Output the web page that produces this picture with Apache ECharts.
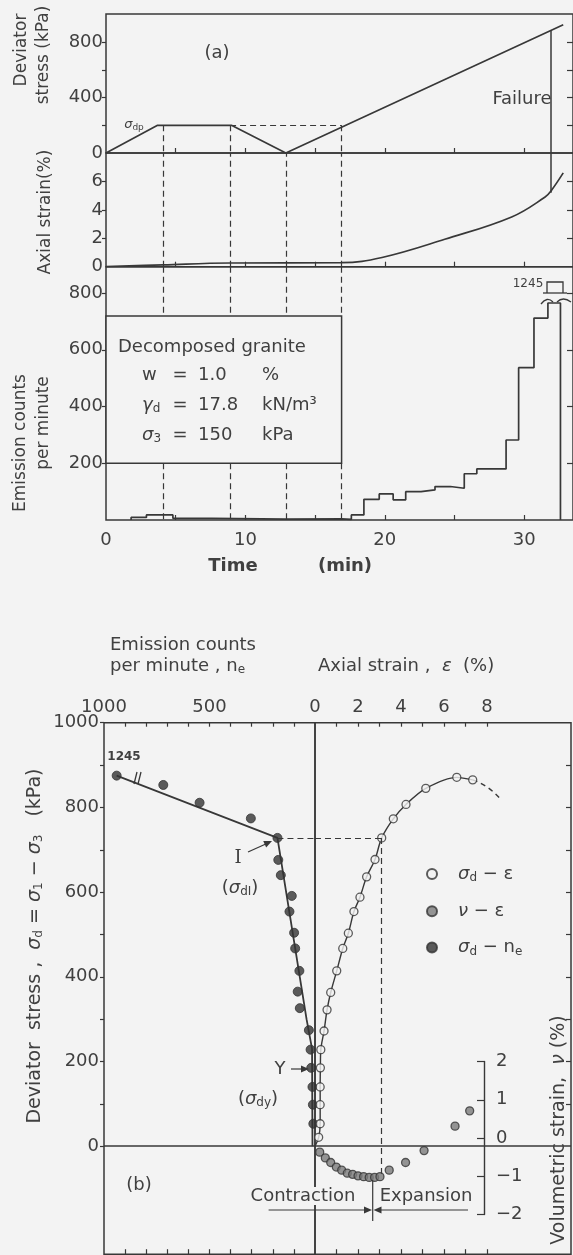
<!DOCTYPE html>
<html>
<head>
<meta charset="utf-8">
<script src="https://cdn.jsdelivr.net/npm/echarts@6/dist/echarts.min.js"></script>
<style>
html, body { margin: 0; padding: 0; background: #f3f3f3; }
#main { width: 573px; height: 1255px; }
</style>
</head>
<body>
<div id="main"></div>
<script>
// (a) time histories, x = time (min)
var stressPts = [[0, 0], [3.7, 200], [9.0, 200], [12.9, 0], [32.8, 928]];
var strainPts = [[0, 0], [4.1, 0.13], [8.9, 0.26], [16.9, 0.28], [19.8, 0.65], [24.3, 1.93], [29.1, 3.5], [31.5, 4.9], [31.9, 5.3], [32.8, 6.6]];
// emission counts per minute, [bin start, counts]
var countPts = [[1.8, 0], [1.8, 9], [2.9, 18], [4.8, 6], [7.6, 3], [12.9, 4], [16.9, 2], [17.6, 18], [18.5, 73], [19.6, 92], [20.6, 71], [21.5, 100],
	[22.6, 106], [23.6, 118], [24.7, 112], [25.7, 163], [26.6, 180], [27.7, 180], [28.7, 282], [29.6, 537], [30.7, 712], [31.7, 765], [32.6, 0]];
var timeLabels = [0, 10, 20, 30];
var markTimes = [4.1, 8.9, 12.9, 16.9];
var failureTime = 31.9;
var failureStress = 889;
var dpStress = 200;

// (b) [axial strain %, deviator stress kPa]
var sigEps = [[0.17, 21], [0.24, 53], [0.24, 98], [0.24, 140], [0.25, 185], [0.27, 228], [0.42, 272], [0.56, 322], [0.73, 363], [1.01, 414],
	[1.29, 467], [1.55, 503], [1.81, 554], [2.09, 588], [2.40, 636], [2.79, 677], [3.10, 728], [3.64, 773], [4.23, 807], [5.15, 845], [6.59, 871], [7.33, 865]];
var sigEpsTail = [[7.33, 865], [8.0, 848], [8.6, 821]];
// [counts per minute, deviator stress]; first point is 1245 drawn past the axis break
var sigNe = [[940, 875], [719, 853], [547, 811], [304, 774], [178, 728], [174, 676], [162, 640], [110, 591], [121, 554], [99, 504], [94, 467],
	[74, 414], [82, 365], [72, 326], [29, 274], [21, 228], [18, 185], [12, 140], [10, 98], [8, 53]];
var neTrend = [[940, 875], [178, 728], [40, 300], [14, 230], [12, 0]];
// [axial strain %, volumetric strain %]
var nuEps = [[0.22, -0.37], [0.48, -0.52], [0.73, -0.64], [0.99, -0.76], [1.24, -0.84], [1.50, -0.92], [1.75, -0.95], [2.0, -0.99], [2.26, -1.01],
	[2.52, -1.03], [2.77, -1.03], [3.02, -1.01], [3.45, -0.84], [4.21, -0.64], [5.07, -0.33], [6.51, 0.31], [7.19, 0.71]];
var sigI = [178, 728, 3.1];
var nuMinStress = -65;

var ink = '#383838';
var txt = '#404040';
var bg = '#f3f3f3';
var F = 'DejaVu Sans';

function range(a, b, s) {
	var r = [];
	for (var v = a; v <= b + 1e-9; v += s) r.push(v);
	return r;
}

function gridBox(l, t, w, h, show) {
	return { left: l, top: t, width: w, height: h, show: show, borderColor: ink, borderWidth: 1.5, backgroundColor: 'transparent' };
}

function plain(v) {
	return v < 0 ? '\u2212' + (-v) : String(v);
}

function valAxis(o) {
	var a = {
		type: 'value', gridIndex: o.grid, min: o.min, max: o.max, position: o.pos, inverse: !!o.inverse,
		axisLine: { show: !!o.line, onZero: false, lineStyle: { color: ink, width: 1.4 } },
		splitLine: { show: false },
		axisTick: { show: !!o.ticks, inside: o.inside !== false, length: o.tickLen || 5, lineStyle: { color: ink, width: 1.2 } },
		axisLabel: { show: !!o.labels, color: txt, fontFamily: F, fontSize: 18, margin: o.margin || 6, formatter: plain }
	};
	if (o.ticks) a.axisTick.customValues = o.ticks;
	if (o.labels) a.axisLabel.customValues = o.labels;
	return a;
}

function timeAxis(g, labels) {
	return valAxis({ grid: g, min: 0, max: 33.5, pos: 'bottom', ticks: range(5, 30, 5), labels: labels ? timeLabels : null, margin: 11 });
}

function seg(x1, y1, x2, y2, style) {
	var a = { coord: [x1, y1] };
	if (style) a.lineStyle = style;
	return [a, { coord: [x2, y2] }];
}

function txtEl(x, y, text, opt) {
	opt = opt || {};
	return {
		type: 'text', x: x, y: y, rotation: opt.rot || 0, z: 100,
		style: {
			text: text, fill: opt.color || txt, fontFamily: opt.family || F, fontSize: opt.size || 18,
			fontWeight: opt.weight || 'normal', fontStyle: opt.style || 'normal',
			align: opt.align || 'center', textAlign: opt.align || 'center', verticalAlign: 'middle', textVerticalAlign: 'middle',
			rich: opt.rich, backgroundColor: opt.bgc, padding: opt.pad
		}
	};
}

function lineEl(pts, w) {
	return { type: 'polyline', z: 100, shape: { points: pts }, style: { stroke: ink, lineWidth: w || 1.3, fill: null } };
}

function curveEl(x1, y1, cx, cy, x2, y2) {
	return { type: 'bezierCurve', z: 100, shape: { x1: x1, y1: y1, cpx1: cx, cpy1: cy, x2: x2, y2: y2 }, style: { stroke: ink, lineWidth: 1.3, fill: null } };
}

function arrowHead(tip, dx, dy) {
	// small filled triangle pointing along (dx, dy)
	var n = Math.sqrt(dx * dx + dy * dy), ux = dx / n, uy = dy / n, L = 8, W = 3.5;
	return {
		type: 'polygon', z: 100,
		shape: { points: [tip, [tip[0] - ux * L - uy * W, tip[1] - uy * L + ux * W], [tip[0] - ux * L + uy * W, tip[1] - uy * L - ux * W]] },
		style: { fill: ink }
	};
}

var sub = { fontFamily: F, fontSize: 12, fill: txt, color: txt, padding: [8, 0, 0, 0] };
var it = { fontFamily: F, fontSize: 18, fontStyle: 'italic', color: txt };
var nrm = { fontFamily: F, fontSize: 18, color: txt };
var n19 = { fontFamily: F, fontSize: 19, color: txt };
var i19 = { fontFamily: F, fontSize: 19, fontStyle: 'italic', color: txt };

var dashed = { color: ink, type: [6, 4], width: 1.2 };
var solid = { color: ink, type: 'solid', width: 1.5 };

// dashed guide lines for (a)
var stressMarks = [];
markTimes.forEach(function(t, i) {
	if (i !== 2) stressMarks.push(seg(t, dpStress, t, 0));
});
stressMarks.push(seg(markTimes[1], dpStress, markTimes[3], dpStress));
stressMarks.push(seg(failureTime, 0, failureTime, failureStress, solid));

var strainMarks = markTimes.map(function(t) { return seg(t, 0, t, 8); });
strainMarks.push(seg(failureTime, 8, failureTime, 5.2, solid));

var boxTop = 719, boxBottom = 200;
var countMarks = [];
markTimes.forEach(function(t) {
	countMarks.push(seg(t, 893, t, boxTop));
	countMarks.push(seg(t, boxBottom, t, 0));
});

var myChart = echarts.init(document.getElementById('main'), null, { renderer: 'canvas' });

var option = {
	backgroundColor: bg,
	animation: false,
	grid: [
		gridBox(106, 14, 469, 139, true),
		gridBox(106, 153, 469, 113.7, true),
		gridBox(106, 266.7, 469, 253.3, true),
		gridBox(104, 722.7, 211, 531.5, true),
		gridBox(315, 722.7, 256, 531.5, true),
		// volumetric strain panel: right edge is the v axis
		gridBox(315, 1061.5, 169, 153, false)
	],
	xAxis: [
		timeAxis(0, false),
		timeAxis(1, false),
		timeAxis(2, true),
		valAxis({ grid: 3, min: 0, max: 1000, pos: 'top', inverse: true, ticks: range(100, 900, 100), labels: [500, 1000], tickLen: 4, margin: 6 }),
		valAxis({ grid: 3, min: 0, max: 1000, pos: 'bottom', inverse: true, ticks: range(100, 900, 100), tickLen: 5 }),
		valAxis({ grid: 4, min: 0, max: 11.9, pos: 'top', ticks: range(1, 8, 1), labels: range(0, 8, 2), tickLen: 4, margin: 6 }),
		valAxis({ grid: 4, min: 0, max: 11.9, pos: 'bottom', ticks: range(1, 8, 1), tickLen: 5 }),
		{ type: 'value', gridIndex: 5, min: 0, max: 169 / 256 * 11.9, show: false }
	],
	yAxis: [
		valAxis({ grid: 0, min: 0, max: 1005, pos: 'left', ticks: [200, 400, 600, 800], labels: [0, 400, 800], inside: false, tickLen: 4, margin: 3 }),
		valAxis({ grid: 1, min: 0, max: 8, pos: 'left', ticks: [2, 4, 6], labels: [0, 2, 4, 6], inside: false, tickLen: 4, margin: 3 }),
		valAxis({ grid: 2, min: 0, max: 893, pos: 'left', ticks: [200, 400, 600, 800], labels: [200, 400, 600, 800], inside: false, tickLen: 4, margin: 3 }),
		valAxis({ grid: 0, min: 0, max: 1005, pos: 'right', ticks: [200, 400, 600, 800], tickLen: 6 }),
		valAxis({ grid: 1, min: 0, max: 8, pos: 'right', ticks: [2, 4, 6], tickLen: 6 }),
		valAxis({ grid: 2, min: 0, max: 893, pos: 'right', ticks: [200, 400, 600, 800], tickLen: 6 }),
		valAxis({ grid: 3, min: -255, max: 1000, pos: 'left', ticks: range(0, 1000, 100), labels: range(0, 1000, 200), inside: false, tickLen: 4, margin: 5 }),
		valAxis({ grid: 4, min: -255, max: 1000, pos: 'right', ticks: range(100, 900, 100), tickLen: 5 }),
		valAxis({ grid: 5, min: -2, max: 2, pos: 'right', line: true, ticks: range(-2, 2, 1), labels: range(-2, 2, 1), tickLen: 7, margin: 12 })
	],
	legend: {
		orient: 'vertical', left: 426, top: 865, padding: 0, itemWidth: 10, itemHeight: 10, itemGap: 18.2, icon: 'circle',
		data: ['sigEps', 'nuEps', 'sigNe'],
		formatter: function(name) {
			if (name === 'sigEps') return '{i|σ}{s|d}{n| \u2212 ε}';
			if (name === 'nuEps') return '{i|ν}{n| \u2212 ε}';
			return '{i|σ}{s|d}{n| \u2212 n}{s|e}';
		},
		textStyle: { padding: [0, 0, 0, 16], rich: { i: it, s: sub, n: nrm } }
	},
	series: [{
		name: 'stress', type: 'line', xAxisIndex: 0, yAxisIndex: 0, data: stressPts, showSymbol: false,
		lineStyle: { color: ink, width: 1.7 },
		markLine: { silent: true, symbol: ['none', 'none'], label: { show: false }, lineStyle: dashed, data: stressMarks }
	}, {
		name: 'strain', type: 'line', xAxisIndex: 1, yAxisIndex: 1, data: strainPts, showSymbol: false, smooth: 0.4,
		lineStyle: { color: ink, width: 1.7 },
		markLine: { silent: true, symbol: ['none', 'none'], label: { show: false }, lineStyle: dashed, data: strainMarks }
	}, {
		name: 'counts', type: 'line', step: 'end', xAxisIndex: 2, yAxisIndex: 2, data: countPts, showSymbol: false,
		lineStyle: { color: ink, width: 1.7 },
		markLine: { silent: true, symbol: ['none', 'none'], label: { show: false }, lineStyle: dashed, data: countMarks },
		markArea: { silent: true, itemStyle: { color: bg, borderColor: ink, borderWidth: 1.5 },
			data: [[{ coord: [0, boxTop] }, { coord: [markTimes[3], boxBottom] }]] }
	}, {
		name: 'neTrend', type: 'line', xAxisIndex: 3, yAxisIndex: 6, data: neTrend, showSymbol: false,
		lineStyle: { color: ink, width: 1.8 },
		markLine: { silent: true, symbol: ['none', 'none'], label: { show: false },
			data: [seg(1000, 0, 0, 0, solid), seg(sigI[0], sigI[1], 0, sigI[1], dashed)] }
	}, {
		name: 'sigNe', type: 'scatter', xAxisIndex: 3, yAxisIndex: 6, data: sigNe, symbol: 'circle', symbolSize: 9,
		itemStyle: { color: '#333', borderColor: '#333', borderWidth: 1 }, z: 4
	}, {
		name: 'sigEpsCurve', type: 'line', xAxisIndex: 5, yAxisIndex: 7, data: [[0, 0]].concat(sigEps), showSymbol: false, smooth: 0.3,
		lineStyle: { color: ink, width: 1.4 },
		markLine: { silent: true, symbol: ['none', 'none'], label: { show: false },
			data: [seg(0, 0, 11.9, 0, solid), seg(0, sigI[1], sigI[2], sigI[1], dashed), seg(sigI[2], sigI[1], sigI[2], nuMinStress, dashed)] }
	}, {
		name: 'sigEpsTail', type: 'line', xAxisIndex: 5, yAxisIndex: 7, data: sigEpsTail, showSymbol: false, smooth: true,
		lineStyle: { color: ink, width: 1.4, type: [5, 4] }
	}, {
		name: 'sigEps', type: 'scatter', xAxisIndex: 5, yAxisIndex: 7, data: sigEps, symbol: 'circle', symbolSize: 8,
		itemStyle: { color: bg, borderColor: '#333', borderWidth: 1.3 }, z: 4
	}, {
		name: 'nuEps', type: 'scatter', xAxisIndex: 7, yAxisIndex: 8, data: nuEps, symbol: 'circle', symbolSize: 8,
		itemStyle: { color: '#7a7a7a', borderColor: '#333', borderWidth: 1.3 }, z: 4
	}],
	graphic: [
		// (a) axis titles and notes
		txtEl(22, 50, 'Deviator', { rot: Math.PI / 2, size: 17 }),
		txtEl(44, 55, 'stress (kPa)', { rot: Math.PI / 2, size: 17 }),
		txtEl(46, 212, 'Axial strain(%)', { rot: Math.PI / 2, size: 17 }),
		txtEl(21, 443, 'Emission counts', { rot: Math.PI / 2, size: 17 }),
		txtEl(44, 423, 'per minute', { rot: Math.PI / 2, size: 17 }),
		txtEl(217, 53, '(a)'),
		txtEl(134, 125, '{i|σ}{s|dp}', { rich: { i: { fontFamily: F, fontSize: 13, fontStyle: 'italic', color: txt }, s: { fontFamily: F, fontSize: 9, color: txt, padding: [6, 0, 0, 0] } } }),
		txtEl(522, 99, 'Failure'),
		txtEl(118, 347, 'Decomposed granite', { align: 'left' }),
		txtEl(142, 375, 'w', { align: 'left' }),
		txtEl(142, 405, '{i|γ}{s|d}', { align: 'left', rich: { i: it, s: sub } }),
		txtEl(142, 435, '{i|σ}{s|3}', { align: 'left', rich: { i: it, s: sub } }),
		txtEl(180, 375, '='), txtEl(180, 405, '='), txtEl(180, 435, '='),
		txtEl(198, 375, '1.0', { align: 'left' }),
		txtEl(198, 405, '17.8', { align: 'left' }),
		txtEl(198, 435, '150', { align: 'left' }),
		txtEl(262, 375, '%', { align: 'left' }),
		txtEl(262, 405, 'kN/m³', { align: 'left' }),
		txtEl(262, 435, 'kPa', { align: 'left' }),
		txtEl(233, 566, 'Time', { weight: 'bold' }),
		txtEl(345, 566, '(min)', { weight: 'bold' }),
		txtEl(528, 284, '1245', { size: 12 }),
		lineEl([[547, 293], [547, 282], [563, 282], [563, 293]]),
		lineEl([[543, 293], [567, 293]]),
		curveEl(541, 304, 547, 296, 553, 302),
		curveEl(557, 302, 563, 296, 571, 302),
		// (b) axis titles and notes
		txtEl(110, 645, 'Emission counts', { align: 'left' }),
		txtEl(110, 666, '{n|per minute , n}{s|e}', { align: 'left', rich: { n: nrm, s: sub } }),
		txtEl(318, 666, '{n|Axial strain ,  }{i|ε}{n|  (%)}', { align: 'left', rich: { n: nrm, i: it } }),
		txtEl(35, 946, '{n|Deviator  stress ,  }{i|σ}{s|d}{n| = }{i|σ}{s|1}{n| \u2212 }{i|σ}{s|3}{n|   (kPa)}',
			{ rot: Math.PI / 2, rich: { n: n19, i: i19, s: sub } }),
		txtEl(559, 1130, '{n|Volumetric strain,  }{i|ν}{n| (%)}', { rot: Math.PI / 2, rich: { n: n19, i: i19 } }),
		txtEl(124, 757, '1245', { size: 12, weight: 'bold' }),
		lineEl([[134, 784], [137, 772]], 1.3),
		lineEl([[138, 784], [141, 772]], 1.3),
		txtEl(238, 858, 'I', { family: 'DejaVu Serif' }),
		lineEl([[248, 852], [268, 843]], 1.2),
		arrowHead([272, 841], 20, -9),
		txtEl(240, 888, '{n|(}{i|σ}{s|dI}{n|)}', { rich: { n: nrm, i: it, s: sub } }),
		txtEl(280, 1069, 'Y'),
		lineEl([[291, 1069], [303, 1069]], 1.2),
		arrowHead([309, 1069], 1, 0),
		txtEl(258, 1099, '{n|(}{i|σ}{s|dy}{n|)}', { rich: { n: nrm, i: it, s: sub } }),
		txtEl(139, 1185, '(b)'),
		txtEl(303, 1196, 'Contraction', { bgc: bg, pad: [0, 2] }),
		txtEl(426, 1196, 'Expansion', { bgc: bg, pad: [0, 2] }),
		lineEl([[372.7, 1180], [372.7, 1221]], 1.2),
		lineEl([[268.6, 1210], [366, 1210]], 1.2),
		arrowHead([372, 1210], 1, 0),
		lineEl([[468, 1210], [379, 1210]], 1.2),
		arrowHead([373.5, 1210], -1, 0)
	]
};
myChart.setOption(option);
</script>
</body>
</html>
